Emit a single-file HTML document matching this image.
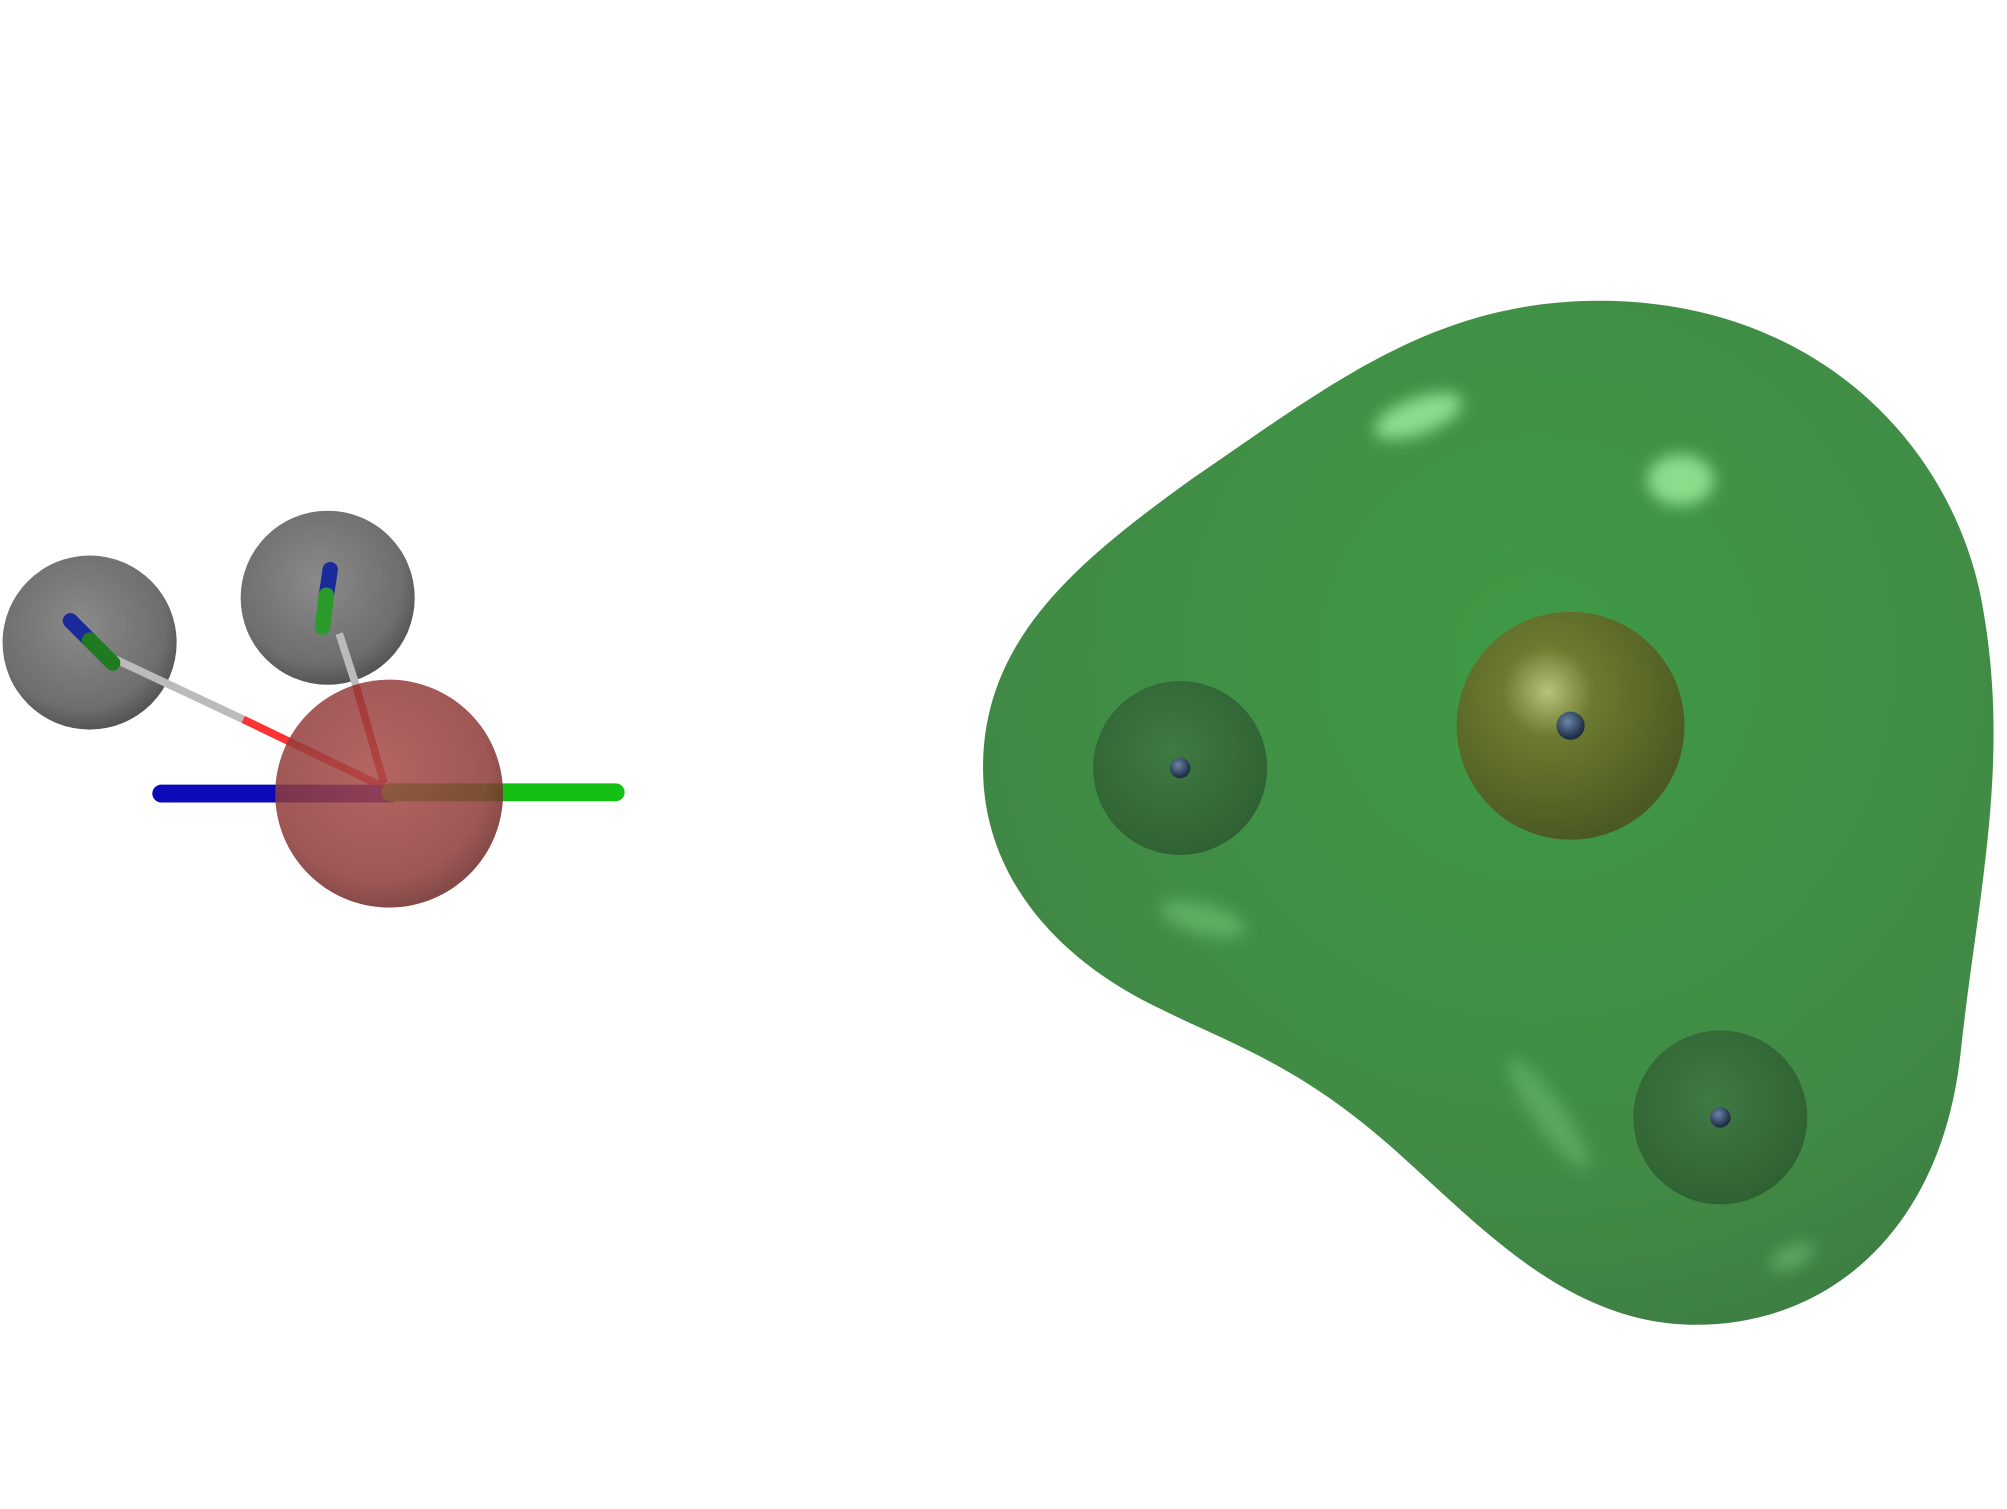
<!DOCTYPE html>
<html><head><meta charset="utf-8"><style>
html,body{margin:0;padding:0;background:#fff;width:2007px;height:1509px;overflow:hidden}
</style></head><body>
<svg width="2007" height="1509" viewBox="0 0 2007 1509" xmlns="http://www.w3.org/2000/svg">
<defs>
<filter id="blur" x="-50%" y="-50%" width="200%" height="200%"><feGaussianBlur stdDeviation="6"/></filter>
<radialGradient id="gray" cx="0.45" cy="0.4" r="0.6"><stop offset="0" stop-color="#8a8a8a"/><stop offset="0.8" stop-color="#6e6e6e"/><stop offset="1" stop-color="#555"/></radialGradient>
<radialGradient id="red" cx="0.45" cy="0.4" r="0.6"><stop offset="0" stop-color="#a84a48"/><stop offset="0.8" stop-color="#8e3a38"/><stop offset="1" stop-color="#6e2a28"/></radialGradient>
<radialGradient id="blob" cx="0.55" cy="0.35" r="0.75"><stop offset="0" stop-color="#3f9a45"/><stop offset="0.7" stop-color="#418a45"/><stop offset="1" stop-color="#3c7a42"/></radialGradient>
<radialGradient id="yellow" cx="0.4" cy="0.35" r="0.65"><stop offset="0" stop-color="#b7c27a"/><stop offset="0.3" stop-color="#6e7a30"/><stop offset="1" stop-color="#4a5a22"/></radialGradient>
<radialGradient id="dg" cx="0.45" cy="0.4" r="0.6"><stop offset="0" stop-color="#3f7a42"/><stop offset="1" stop-color="#2f6233"/></radialGradient>
<radialGradient id="dot" cx="0.4" cy="0.35" r="0.6"><stop offset="0" stop-color="#6a86a8"/><stop offset="1" stop-color="#1e2e44"/></radialGradient>
</defs>
<g transform="scale(1.28)">
<g>
<circle cx="70" cy="502" r="68" fill="url(#gray)"/>
<circle cx="256" cy="467" r="68" fill="url(#gray)"/>
<line x1="90" y1="515" x2="190" y2="562" stroke="#bbb" stroke-width="6"/>
<line x1="190" y1="562" x2="300" y2="615" stroke="#f33" stroke-width="6"/>
<line x1="265" y1="495" x2="278" y2="535" stroke="#bbb" stroke-width="6"/>
<line x1="278" y1="535" x2="300" y2="612" stroke="#e22" stroke-width="6"/>
<line x1="55" y1="485" x2="70" y2="500" stroke="#1a2a9a" stroke-width="12" stroke-linecap="round"/>
<line x1="70" y1="500" x2="88" y2="518" stroke="#1f7a22" stroke-width="12" stroke-linecap="round"/>
<line x1="258" y1="445" x2="255" y2="465" stroke="#1a2a9a" stroke-width="12" stroke-linecap="round"/>
<line x1="255" y1="465" x2="252" y2="490" stroke="#2a9a2a" stroke-width="12" stroke-linecap="round"/>
<line x1="126" y1="620" x2="305" y2="620" stroke="#0a0ab8" stroke-width="14" stroke-linecap="round"/>
<line x1="305" y1="619" x2="481" y2="619" stroke="#14c014" stroke-width="14" stroke-linecap="round"/>
<circle cx="304" cy="620" r="89" fill="url(#red)" fill-opacity="0.85"/>
</g>
<g>
<path d="M1250 235 C1420 235 1530 350 1550 480 C1570 600 1545 700 1532 820 C1518 960 1430 1035 1325 1035 C1220 1035 1150 950 1080 890 C1010 830 960 815 900 785 C820 745 768 680 768 600 C768 500 840 440 930 375 C1040 300 1120 235 1250 235 Z" fill="url(#blob)"/>
<ellipse cx="1108" cy="325" rx="36" ry="14" transform="rotate(-20 1108 325)" fill="#9fef9f" fill-opacity="0.8" filter="url(#blur)"/>
<ellipse cx="1313" cy="375" rx="26" ry="20" fill="#9fef9f" fill-opacity="0.8" filter="url(#blur)"/>
<ellipse cx="940" cy="718" rx="34" ry="12" transform="rotate(15 940 718)" fill="#7fcf80" fill-opacity="0.5" filter="url(#blur)"/>
<ellipse cx="1210" cy="870" rx="52" ry="12" transform="rotate(55 1210 870)" fill="#7fcf80" fill-opacity="0.4" filter="url(#blur)"/>
<ellipse cx="1400" cy="982" rx="18" ry="8" transform="rotate(-25 1400 982)" fill="#7fcf80" fill-opacity="0.5" filter="url(#blur)"/>
<circle cx="922" cy="600" r="68" fill="url(#dg)"/>
<circle cx="1227" cy="567" r="89" fill="url(#yellow)"/>
<circle cx="1344" cy="873" r="68" fill="url(#dg)"/>
<circle cx="922" cy="600" r="8" fill="url(#dot)"/>
<circle cx="1227" cy="567" r="11" fill="url(#dot)"/>
<circle cx="1344" cy="873" r="8" fill="url(#dot)"/>
</g>
</g>
</svg>
</body></html>
